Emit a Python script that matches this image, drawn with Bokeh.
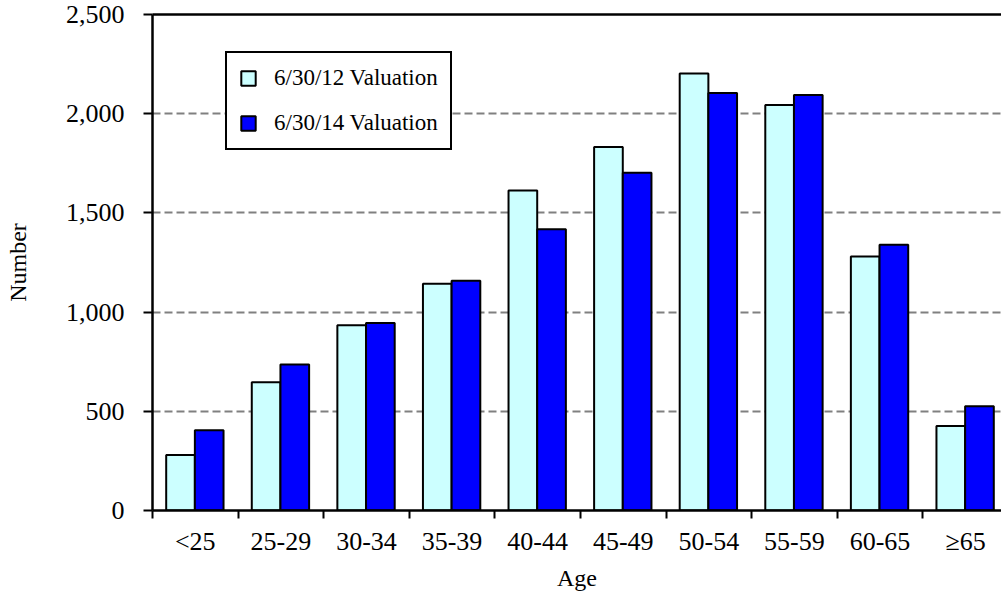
from bokeh.plotting import figure
from bokeh.models import (FixedTicker, LinearAxis, Range1d, Legend, LegendItem,
                          NumeralTickFormatter)
from bokeh.embed import file_html
from bokeh.resources import INLINE

categories = ["<25", "25-29", "30-34", "35-39", "40-44", "45-49", "50-54", "55-59", "60-65", "\u226565"]
val_2012 = [280, 646, 934, 1143, 1613, 1832, 2203, 2044, 1280, 426]
val_2014 = [404, 736, 945, 1158, 1417, 1702, 2104, 2094, 1339, 525]
y_ticks = [0, 500, 1000, 1500, 2000, 2500]
series_names = ["6/30/12 Valuation", "6/30/14 Valuation"]

FONT = "Liberation Serif"
LIGHT = "#CCFFFF"
DARK = "#0000FF"

n = len(categories)
p = figure(width=1001, height=599, x_range=Range1d(0, 2 * n - 0.16), y_range=Range1d(0, 2500),
           output_backend="svg", toolbar_location=None,
           min_border_left=152, min_border_right=0, min_border_top=14, min_border_bottom=89)
p.outline_line_color = None
p.background_fill_color = "white"
p.border_fill_color = "white"

# bars
idx = list(range(n))
x_light = [2 * i + 0.655 for i in idx]
x_dark = [2 * i + 1.325 for i in idx]
r1 = p.vbar(x=x_light, top=val_2012, width=0.67, bottom=0, fill_color=LIGHT,
            line_color="black", line_width=2)
r2 = p.vbar(x=x_dark, top=val_2014, width=0.67, bottom=0, fill_color=DARK,
            line_color="black", line_width=2)

# grid
p.xgrid.visible = False
p.ygrid.ticker = FixedTicker(ticks=y_ticks)
p.ygrid.grid_line_color = "#808080"
p.ygrid.grid_line_dash = "8 4"
p.ygrid.grid_line_width = 2

# x axis
xa = p.xaxis[0]
xa.ticker = FixedTicker(ticks=[2 * i + 1 for i in idx], minor_ticks=[2 * i for i in idx])
xa.major_label_overrides = {2 * i + 1: c for i, c in zip(idx, categories)}
xa.major_tick_out = 0
xa.major_tick_in = 0
xa.minor_tick_out = 8
xa.minor_tick_in = 0
xa.minor_tick_line_width = 2
xa.minor_tick_line_color = "black"
xa.axis_line_width = 2.5
xa.axis_line_color = "black"
xa.major_label_text_font = FONT
xa.major_label_text_font_size = "26px"
xa.major_label_text_color = "black"
xa.major_label_standoff = 8
xa.axis_label = "Age"
xa.axis_label_text_font = FONT
xa.axis_label_text_font_size = "24px"
xa.axis_label_text_font_style = "normal"
xa.axis_label_text_color = "black"
xa.axis_label_standoff = 6

# y axis
ya = p.yaxis[0]
ya.ticker = FixedTicker(ticks=y_ticks)
ya.formatter = NumeralTickFormatter(format="0,0")
ya.major_tick_out = 9
ya.major_tick_in = 0
ya.minor_tick_out = 0
ya.minor_tick_in = 0
ya.major_tick_line_width = 2
ya.axis_line_width = 2.5
ya.major_label_text_font = FONT
ya.major_label_text_font_size = "26px"
ya.major_label_text_color = "black"
ya.major_label_standoff = 19
ya.axis_label = "Number"
ya.axis_label_text_font = FONT
ya.axis_label_text_font_size = "24px"
ya.axis_label_text_font_style = "normal"
ya.axis_label_text_color = "black"
ya.axis_label_standoff = 32

# top border line
top = LinearAxis(ticker=FixedTicker(ticks=[]), axis_line_width=2.5, axis_line_color="black",
                 major_tick_out=0, major_tick_in=0, minor_tick_out=0, minor_tick_in=0,
                 major_label_text_font_size="0px", major_label_standoff=0)
p.add_layout(top, "above")

legend = Legend(items=[LegendItem(label=series_names[0], renderers=[r1]),
                       LegendItem(label=series_names[1], renderers=[r2])],
                location=(73, 360), orientation="vertical",
                border_line_color="black", border_line_width=2, border_line_alpha=1,
                background_fill_color="white", background_fill_alpha=1,
                padding=12, spacing=19, margin=0,
                glyph_width=18, glyph_height=18, label_height=18, label_standoff=17,
                label_text_font=FONT, label_text_font_size="23px", label_text_color="black")
p.add_layout(legend, "center")

open("out.html", "w").write(file_html(p, INLINE))
